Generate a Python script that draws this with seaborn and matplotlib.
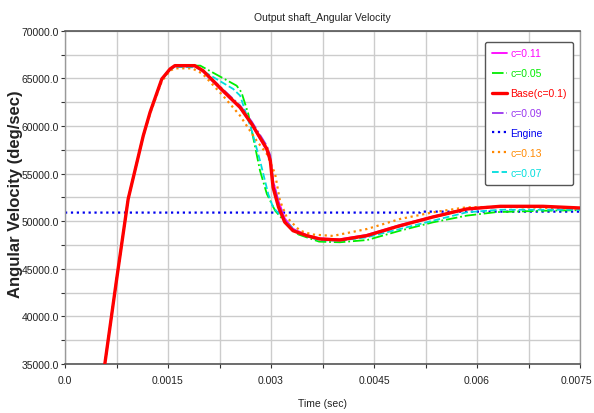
import matplotlib
matplotlib.use("Agg")
import matplotlib.pyplot as plt
import matplotlib.transforms as mtransforms
import seaborn as sns
import numpy as np
import pandas as pd
from matplotlib import font_manager as fm
from matplotlib.ticker import MultipleLocator, FuncFormatter

# ---------------- data ----------------
t_base = [0.0005, 0.00058, 0.00075, 0.00092, 0.00114, 0.00124, 0.00141, 0.00153, 0.0016, 0.00189,
          0.00201, 0.0023, 0.00255, 0.00272, 0.00294, 0.00299, 0.00303, 0.00311, 0.0032, 0.00332,
          0.00352, 0.00371, 0.0040, 0.00439, 0.00488, 0.00536, 0.00585, 0.00634, 0.00696, 0.0075]
v_base = [33600, 35000, 43800, 52330, 58975, 61460, 64930, 65980, 66330, 66330,
          65800, 63700, 61950, 60200, 57580, 56350, 53550, 51460, 49900, 49000,
          48475, 48130, 48020, 48475, 49525, 50440, 51280, 51560, 51560, 51385]
v_c009 = [33600, 35000, 43800, 52330, 58975, 61460, 64930, 65980, 66300, 66300,
          65850, 63850, 62150, 60450, 57900, 56900, 54300, 51900, 50100, 49100,
          48450, 48100, 48000, 48400, 49450, 50400, 51250, 51500, 51500, 51350]
v_c011 = [33600, 35000, 43800, 52330, 58975, 61460, 64930, 65980, 66250, 66250,
          65700, 63600, 61850, 60100, 57400, 56300, 54200, 52100, 50300, 49200,
          48550, 48200, 48100, 48550, 49600, 50500, 51300, 51550, 51550, 51380]

t_c013 = [0.0005, 0.00058, 0.00075, 0.00092, 0.00114, 0.00124, 0.00141, 0.00153, 0.0016, 0.00185,
          0.002, 0.0023, 0.00255, 0.00279, 0.00294, 0.00306, 0.00313, 0.00323, 0.00342, 0.0036,
          0.0039, 0.0044, 0.00488, 0.00536, 0.00585, 0.00634, 0.007, 0.0075]
v_c013 = [33600, 35000, 43800, 52330, 58975, 61300, 64700, 65800, 66050, 66050,
          65500, 63180, 61070, 58450, 57050, 54950, 52150, 50400, 49000, 48600,
          48450, 49180, 50230, 50930, 51460, 51500, 51400, 51300]

t_c005 = [0.0005, 0.00058, 0.00075, 0.00092, 0.00114, 0.00124, 0.00141, 0.00153, 0.0016, 0.00197,
          0.0025, 0.00257, 0.00267, 0.00277, 0.00284, 0.00294, 0.00306, 0.00323, 0.0034, 0.0037,
          0.0040, 0.0044, 0.00488, 0.00536, 0.00585, 0.00628, 0.007, 0.0075]
v_c005 = [33600, 35000, 43800, 52330, 58975, 61460, 64930, 65980, 66330, 66330,
          64225, 63530, 61250, 57760, 55300, 52850, 51100, 49700, 48600, 47850,
          47780, 48020, 49000, 49880, 50580, 50950, 51100, 51150]

t_c007 = [0.0005, 0.00058, 0.00075, 0.00092, 0.00114, 0.00124, 0.00141, 0.00153, 0.0016, 0.00192,
          0.00245, 0.00255, 0.00272, 0.00284, 0.00296, 0.00303, 0.00323, 0.0034, 0.0037, 0.0040,
          0.00439, 0.00488, 0.00536, 0.00585, 0.00634, 0.007, 0.0075]
v_c007 = [33600, 35000, 43800, 52330, 58975, 61400, 64850, 65900, 66200, 66150,
          63880, 63180, 59500, 56350, 52850, 51460, 49880, 48700, 48000, 47950,
          48300, 49180, 50050, 50930, 51200, 51200, 51200]

t_engine = [0.0, 0.00517, 0.00518, 0.0075]
v_engine = [50900, 50900, 51000, 51000]

x_tick_vals = [0.0, 0.0015, 0.003, 0.0045, 0.006, 0.0075]
x_tick_labels = ["0.0", "0.0015", "0.003", "0.0045", "0.006", "0.0075"]
y_tick_vals = [35000, 40000, 45000, 50000, 55000, 60000, 65000, 70000]

# ---------------- style ----------------
sns.set_style("white")
names = {f.name for f in fm.fontManager.ttflist}
narrow = "Liberation Sans Narrow" if "Liberation Sans Narrow" in names else "Liberation Sans"
plt.rcParams["font.family"] = [narrow, "DejaVu Sans"]

FS = 7.5

fig = plt.figure(figsize=(5.94, 4.14), dpi=100)
ax = fig.add_axes([65 / 594, 1 - 365 / 414, 515 / 594, 333.3 / 414])

series = [
    ("c=0.11", t_base, v_c011, "#ff00ff", "-", 1.3, 3),
    ("c=0.05", t_c005, v_c005, "#00ee00", "-.", 1.3, 3),
    ("Base(c=0.1)", t_base, v_base, "#ff0000", "-", 2.4, 6),
    ("c=0.09", t_base, v_c009, "#9933ee", "-.", 1.3, 4),
    ("Engine", t_engine, v_engine, "#0000ee", ":", 1.6, 2),
    ("c=0.13", t_c013, v_c013, "#ff8800", ":", 1.6, 3),
    ("c=0.07", t_c007, v_c007, "#00dddd", "--", 1.3, 3),
]

handles = []
for name, tt, vv, col, ls, lw, z in series:
    df = pd.DataFrame({"t": tt, "v": vv})
    sns.lineplot(data=df, x="t", y="v", ax=ax, color=col, linestyle=ls,
                 linewidth=lw, zorder=z, label=name, legend=False)
    handles.append(ax.lines[-1])

ax.set_xlim(0, 0.0075)
ax.set_ylim(35000, 70000)
ax.set_xticks(x_tick_vals)
ax.set_xticklabels(x_tick_labels)
ax.set_yticks(y_tick_vals)
ax.yaxis.set_major_formatter(FuncFormatter(lambda v, p: f"{v:.1f}"))
ax.xaxis.set_minor_locator(MultipleLocator(0.00075))
ax.yaxis.set_minor_locator(MultipleLocator(2500))
ax.grid(True, which="both", color="#cccccc", linewidth=1.0)
ax.set_axisbelow(True)

ax.tick_params(axis="both", which="both", direction="out", length=3, width=0.8,
               colors="#333333", labelsize=FS, labelcolor="#222222")
ax.tick_params(axis="both", which="both", left=True, bottom=True)
ax.tick_params(axis="x", pad=5)
ax.tick_params(axis="y", pad=1.5)

# keep the last x tick label inside the figure
last = ax.get_xticklabels()[-1]
last.set_transform(last.get_transform() +
                   mtransforms.ScaledTranslation(-4 / 100, 0, fig.dpi_scale_trans))

for side in ["top", "bottom"]:
    ax.spines[side].set_color("#555555")
    ax.spines[side].set_linewidth(1.2)
for side in ["left", "right"]:
    ax.spines[side].set_color("#999999")
    ax.spines[side].set_linewidth(1.0)

ax.set_title("Output shaft_Angular Velocity", fontsize=FS, color="#222222", pad=8)
ax.set_xlabel("Time (sec)", fontsize=FS, color="#222222", labelpad=9)
ax.set_ylabel("Angular Velocity (deg/sec)", fontsize=12, fontweight="bold",
              family=["Liberation Sans", "DejaVu Sans"], color="#222222")
ax.yaxis.set_label_coords(-0.082, 0.513)

leg = ax.legend(handles=handles, labels=[s[0] for s in series], loc="upper right",
                bbox_to_anchor=(0.987, 0.967), borderaxespad=0, fontsize=FS,
                labelcolor="linecolor", handlelength=1.5, handletextpad=0.25,
                labelspacing=0.95, borderpad=0.65, frameon=True, fancybox=True,
                framealpha=1.0, edgecolor="#555555")
leg.get_frame().set_linewidth(1.0)
leg.get_frame().set_boxstyle("round,pad=0,rounding_size=0.2")

fig.savefig("out.png", dpi=100, facecolor="white")
